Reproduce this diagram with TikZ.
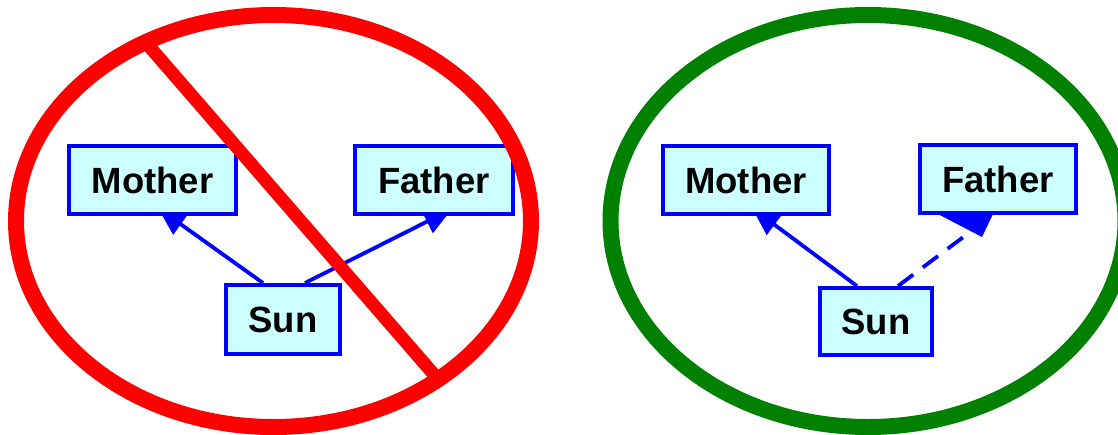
\documentclass[tikz,border=0pt]{standalone}
\usepackage{fontspec}
\setmainfont{Liberation Sans}
\usetikzlibrary{arrows.meta,shapes.geometric}
\pgfdeclarelayer{bg}
\pgfsetlayers{bg,main}
\definecolor{boxfill}{RGB}{204,255,255}
\definecolor{ringgreen}{RGB}{0,128,0}
\tikzset{
  cls/.style={draw=blue, fill=boxfill, line width=4pt, inner sep=0pt,
    font=\fontsize{36.5}{40}\selectfont\bfseries},
  link/.style={draw=blue, line width=3.8pt, -{Triangle[length=28pt,width=25pt]}},
  dashlink/.style={draw=blue, line width=3.8pt, dash pattern=on 19pt off 12pt},
  ring/.style={ellipse, line width=16pt, minimum width=515pt, minimum height=412pt, inner sep=0pt},
}
\begin{document}
\begin{tikzpicture}[x=1pt,y=-1pt]
\useasboundingbox (0,0) rectangle (1118,434);
% left panel
\node[cls, minimum width=167pt, minimum height=68pt] (m1) at (152.5,180) {Mother};
\node[cls, minimum width=158pt, minimum height=68pt] (f1) at (434,180) {Father};
\node[cls, minimum width=114pt, minimum height=69pt] (s1) at (283,319.5) {Sun};
\coordinate (m1t) at (158,208);
\coordinate (f1t) at (452,209);
\begin{pgfonlayer}{bg}
\draw[link] (s1.north -| 263,0) -- (m1t);
\draw[link] (s1.north -| 305,0) -- (f1t);
\end{pgfonlayer}
\node[draw=red, ring] (e1) at (273.5,221) {};
\coordinate (x1) at (148,45);
\coordinate (x2) at (437,378);
\draw[red, line width=13pt] (x1) -- (x2);
% right panel
\node[cls, minimum width=166pt, minimum height=68pt] (m2) at (746,180) {Mother};
\node[cls, minimum width=156pt, minimum height=68pt] (f2) at (998,179) {Father};
\node[cls, minimum width=112pt, minimum height=67pt] (s2) at (876,321.5) {Sun};
\coordinate (m2t) at (752,208);
\coordinate (f2t) at (974,229);
\coordinate (h1) at (982,237);
\coordinate (h2) at (934,212);
\coordinate (h3) at (994,212);
\begin{pgfonlayer}{bg}
\draw[link] (s2.north -| 857,0) -- (m2t);
\draw[dashlink] (s2.north -| 898,0) -- (f2t);
\fill[blue] (h1) -- (h2) -- (h3) -- cycle;
\end{pgfonlayer}
\node[draw=ringgreen, ring] (e2) at (868,221) {};
\end{tikzpicture}
\end{document}
